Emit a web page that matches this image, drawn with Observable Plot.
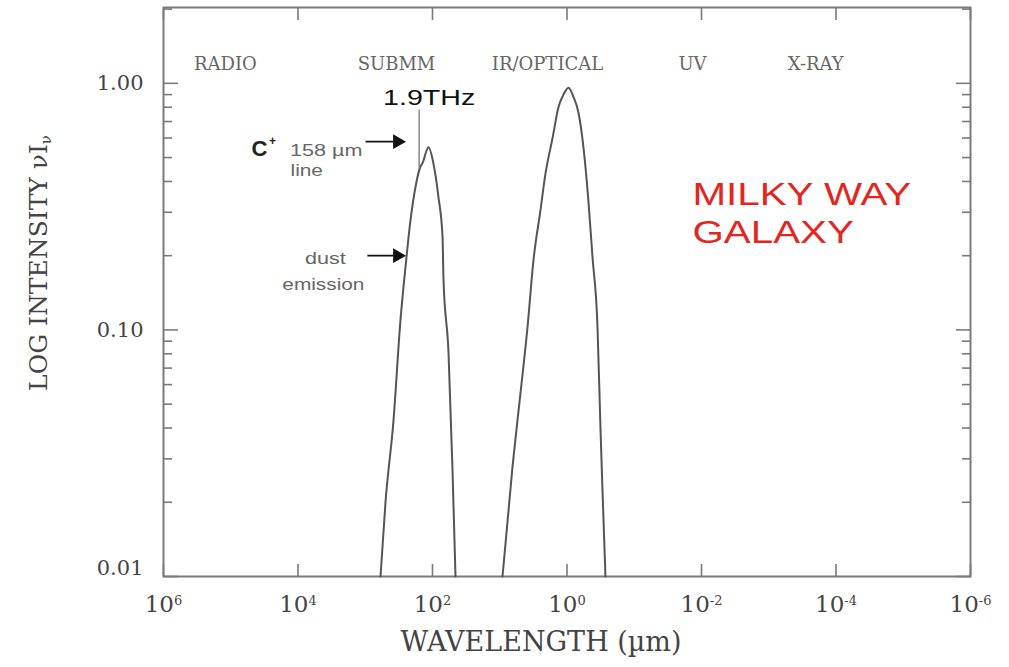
<!DOCTYPE html>
<html><head><meta charset="utf-8">
<script src="https://cdn.jsdelivr.net/npm/d3@7"></script>
<script src="https://cdn.jsdelivr.net/npm/@observablehq/plot@0.6"></script>
<style>html,body{margin:0;padding:0;background:#fff;}</style>
</head><body><div id="chart"></div>
<script>
// ---- data ----
const dustWavelength = [593, 500, 380, 299, 252, 212, 179, 151, 141, 115, 97, 81.5, 71, 68.6, 57.8, 50.4, 45.5];
const dustIntensity  = [0.01, 0.020, 0.043, 0.11, 0.18, 0.28, 0.38, 0.46, 0.474, 0.55, 0.474, 0.345, 0.24, 0.16, 0.081, 0.027, 0.01];
const starWavelength = [9.1, 6.46, 4.91, 3.86, 3.15, 2.48, 2.09, 1.64, 1.34, 1.13, 0.95, 0.80, 0.675, 0.569, 0.479, 0.418, 0.352, 0.318, 0.296, 0.268];
const starIntensity  = [0.01, 0.0279, 0.0556, 0.103, 0.192, 0.306, 0.43, 0.60, 0.80, 0.90, 0.96, 0.88, 0.76, 0.55, 0.33, 0.198, 0.103, 0.040, 0.022, 0.01];

const xTicks = [1e6, 1e4, 1e2, 1, 1e-2, 1e-4, 1e-6];
const xTickLabels = ["10^6", "10^4", "10^2", "10^0", "10^-2", "10^-4", "10^-6"];
const yTicks = [0.01, 0.1, 1];
const yTickLabels = ["0.01", "0.10", "1.00"];
const yMinorTicks = [0.02, 0.03, 0.04, 0.05, 0.06, 0.07, 0.08, 0.09, 0.2, 0.3, 0.4, 0.5, 0.6, 0.7, 0.8, 0.9, 2];

const regionNames = ["RADIO", "SUBMM", "IR/OPTICAL", "UV", "X-RAY"];
const regionWavelength = [1.2e5, 343, 1.95, 0.0136, 2.0e-4];

const lineWavelength = [158];          // C+ 158 µm = 1.9 THz
const lineTop = [0.78], lineBottom = [0.45];
const lineLabel = ["1.9THz"];

const arrowFrom = [990, 930];
const arrowTo = [280, 280];
const arrowLevel = [0.58, 0.20];

const galaxyLines = ["MILKY WAY", "GALAXY"];
const galaxyWavelength = [0.0136];
const galaxyLevel = [0.295];

// ---- build tables ----
const dust = dustWavelength.map((w, i) => ({w, v: dustIntensity[i]}));
const star = starWavelength.map((w, i) => ({w, v: starIntensity[i]}));
const regions = regionNames.map((name, i) => ({name, w: regionWavelength[i]}));
const arrows = arrowFrom.map((f, i) => ({from: f, to: arrowTo[i], v: arrowLevel[i]}));
const cplus = [arrows[0]], dustA = [arrows[1]];
const xLab = new Map(xTicks.map((t, i) => [t, xTickLabels[i]]));
const yLab = new Map(yTicks.map((t, i) => [t, yTickLabels[i]]));
const gx = () => galaxyWavelength[0], gy = () => galaxyLevel[0];

const AX = "#7a7a7a";
const SERIF = "DejaVu Serif";
const SANS = "Liberation Sans";

const chart = Plot.plot({
  width: 1009, height: 667,
  marginLeft: 163, marginRight: 39, marginTop: 7, marginBottom: 91,
  x: {type: "log", domain: [1e6, 1e-6], label: null},
  y: {type: "log", domain: [0.01, 2.03], label: null},
  style: {fontFamily: SERIF, background: "#fff"},
  marks: [
    // inward ticks
    Plot.axisX(xTicks, {anchor: "bottom", tickSize: -12, text: null, label: null, stroke: AX, strokeWidth: 1.6}),
    Plot.axisX(xTicks, {anchor: "top", tickSize: -12, text: null, label: null, stroke: AX, strokeWidth: 1.6}),
    Plot.axisY(yTicks, {anchor: "left", tickSize: -15, text: null, label: null, stroke: AX, strokeWidth: 1.6}),
    Plot.axisY(yTicks, {anchor: "right", tickSize: -15, text: null, label: null, stroke: AX, strokeWidth: 1.6}),
    Plot.axisY(yMinorTicks, {anchor: "left", tickSize: -9, text: null, label: null, stroke: AX, strokeWidth: 1.6}),
    Plot.axisY(yMinorTicks, {anchor: "right", tickSize: -9, text: null, label: null, stroke: AX, strokeWidth: 1.6}),
    // tick labels
    Plot.axisX(xTicks, {anchor: "bottom", tickSize: 0, tickPadding: 19, tickFormat: d => xLab.get(d), label: null, fontSize: 23, fill: "#444"}),
    Plot.axisY(yTicks.slice(1), {anchor: "left", tickSize: 0, tickPadding: 20, tickFormat: d => yLab.get(d), label: null, fontSize: 21, fill: "#444"}),
    Plot.axisY(yTicks.slice(0, 1), {anchor: "left", tickSize: 0, tickPadding: 20, tickFormat: d => yLab.get(d), label: null, fontSize: 21, fill: "#444", dy: -8}),
    Plot.frame({stroke: AX, strokeWidth: 2}),
    // axis titles
    Plot.text(["WAVELENGTH (µm)"], {frameAnchor: "bottom", dx: -26, dy: 74, fontSize: 27, fill: "#444", fontFamily: SERIF}),
    Plot.text(["LOG INTENSITY νIν"], {frameAnchor: "left", textAnchor: "middle", dx: -125, dy: -29, rotate: -90, fontSize: 25, fill: "#444", fontFamily: SERIF}),
    // region labels
    Plot.text(regions, {x: "w", text: "name", frameAnchor: "top", dy: 50, fontSize: 18, fill: "#666", fontFamily: SERIF, letterSpacing: 2.8}),
    // spectra
    Plot.line(dust, {x: "w", y: "v", stroke: "#555", strokeWidth: 2, curve: "monotone-x"}),
    Plot.line(star, {x: "w", y: "v", stroke: "#555", strokeWidth: 2, curve: "monotone-x"}),
    // 1.9 THz marker
    Plot.ruleX(lineWavelength, {x: d => d, y1: () => lineTop[0], y2: () => lineBottom[0], stroke: "#888", strokeWidth: 1.5}),
    Plot.text(lineLabel, {x: () => lineWavelength[0], y: () => lineTop[0], text: d => d, dx: 10, dy: -12, fontSize: 22, fill: "#111", fontFamily: SANS}),
    // arrows
    Plot.link(arrows, {x1: "from", x2: "to", y1: "v", y2: "v", stroke: "#111", strokeWidth: 1.8}),
    Plot.dot(arrows, {x: "to", y: "v", symbol: "triangle", rotate: 90, r: 5.5, fill: "#111", dx: -5}),
    // C+ annotation
    Plot.text(cplus, {x: "from", y: "v", text: () => "C", dx: -106, dy: 7, fontSize: 22, fontWeight: "bold", fill: "#222", fontFamily: SANS}),
    Plot.text(cplus, {x: "from", y: "v", text: () => "+", dx: -93, dy: -1, fontSize: 12, fontWeight: "bold", fill: "#222", fontFamily: SANS}),
    Plot.text(cplus, {x: "from", y: "v", text: () => "158 µm", textAnchor: "end", dx: -3, dy: 9, fontSize: 16, fill: "#666", fontFamily: SANS}),
    Plot.text(cplus, {x: "from", y: "v", text: () => "line", textAnchor: "start", dx: -75, dy: 29, fontSize: 16, fill: "#666", fontFamily: SANS}),
    Plot.text(dustA, {x: "from", y: "v", text: () => "dust", dx: -42, dy: 3, fontSize: 16, fill: "#666", fontFamily: SANS}),
    Plot.text(dustA, {x: "from", y: "v", text: () => "emission", dx: -44, dy: 29, fontSize: 16, fill: "#666", fontFamily: SANS}),
    // galaxy label
    Plot.text(galaxyLines.slice(0, 1), {x: gx, y: gy, text: d => d, textAnchor: "start", dy: -19, fontSize: 31, fill: "#e3261f", fontFamily: SANS}),
    Plot.text(galaxyLines.slice(1), {x: gx, y: gy, text: d => d, textAnchor: "start", dy: 19, fontSize: 31, fill: "#e3261f", fontFamily: SANS})
  ]
});
document.getElementById("chart").appendChild(chart);

// superscripts on x tick labels
d3.select(chart).selectAll('g[aria-label="x-axis tick label"] text').each(function () {
  const [base, exp] = this.textContent.split("^");
  const s = d3.select(this);
  s.text(base);
  s.append("tspan").attr("font-size", 13).attr("dy", "-0.55em").text(exp);
});
// subscript nu on y title
d3.select(chart).selectAll("text").filter(function () { return this.textContent === "LOG INTENSITY νIν"; }).each(function () {
  const s = d3.select(this);
  s.text("LOG INTENSITY νI");
  s.append("tspan").attr("font-size", 15).attr("dy", "0.3em").text("ν");
});
// horizontally widened lettering, as in the reference
const widen = new Map([["1.9THz", 1.3], ["158 µm", 1.35], ["line", 1.3], ["dust", 1.35], ["emission", 1.3], ["MILKY WAY", 1.3], ["GALAXY", 1.3]]);
d3.select(chart).selectAll("text").each(function () {
  const f = widen.get(this.textContent);
  if (!f) return;
  this.setAttribute("textLength", (this.getComputedTextLength() * f).toFixed(1));
  this.setAttribute("lengthAdjust", "spacingAndGlyphs");
});
</script></body></html>
